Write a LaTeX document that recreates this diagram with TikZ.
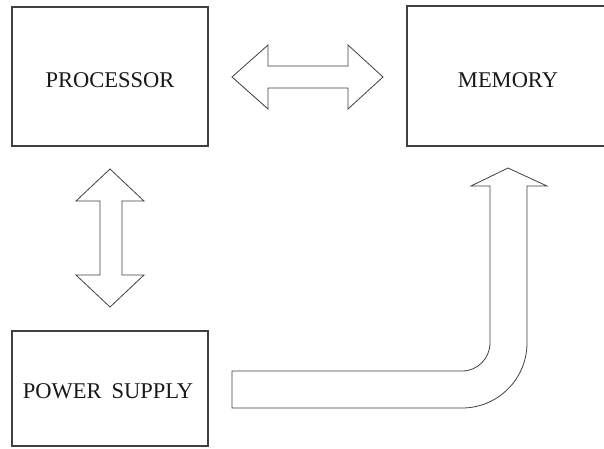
\documentclass[tikz,border=0pt]{standalone}
\usepackage{fontspec}
\setmainfont{Liberation Serif}
\begin{document}
\begin{tikzpicture}[x=1pt,y=-1pt,
  box/.style={draw=black!75,line width=1.1pt,rectangle,inner sep=0pt},
  label/.style={font=\fontsize{22.5}{26}\selectfont,text=black!90},
  blockarrow/.style={draw=black!75,line width=0.8pt,line join=miter,fill=white}]
\useasboundingbox (0,0) rectangle (604,448);
\clip (0,0) rectangle (604,448);
% boxes
\node[box,minimum width=196pt,minimum height=139pt] (proc) at (110,76.5) {};
\node[box,minimum width=240pt,minimum height=140pt] (mem) at (527,76) {};
\node[box,minimum width=196pt,minimum height=115pt] (psu) at (110,388.5) {};
% labels
\node[label] (proctext) at (110,80) {PROCESSOR};
\node[label] (memtext) at (508,80) {MEMORY};
\node[label] (psutext) at (108,391) {POWER\hspace{0.2em} SUPPLY};
% horizontal double arrow
\draw[blockarrow] (232,77) -- (268,45) -- (268,66) -- (348,66) -- (348,45) -- (383,77)
  -- (348,109) -- (348,88) -- (268,88) -- (268,109) -- cycle;
% vertical double arrow
\draw[blockarrow] (110,169) -- (144,201) -- (122,201) -- (122,275) -- (144,275) -- (110,307)
  -- (76,275) -- (100,275) -- (100,201) -- (76,201) -- cycle;
% bent arrow
\draw[blockarrow] (232,371) -- (462,371) arc[start angle=90,end angle=0,radius=28]
  -- (490,186) -- (471,186) -- (508,168) -- (547,186) -- (527,186) -- (527,343)
  arc[start angle=0,end angle=90,radius=65] -- (232,408) -- cycle;
\end{tikzpicture}
\end{document}
